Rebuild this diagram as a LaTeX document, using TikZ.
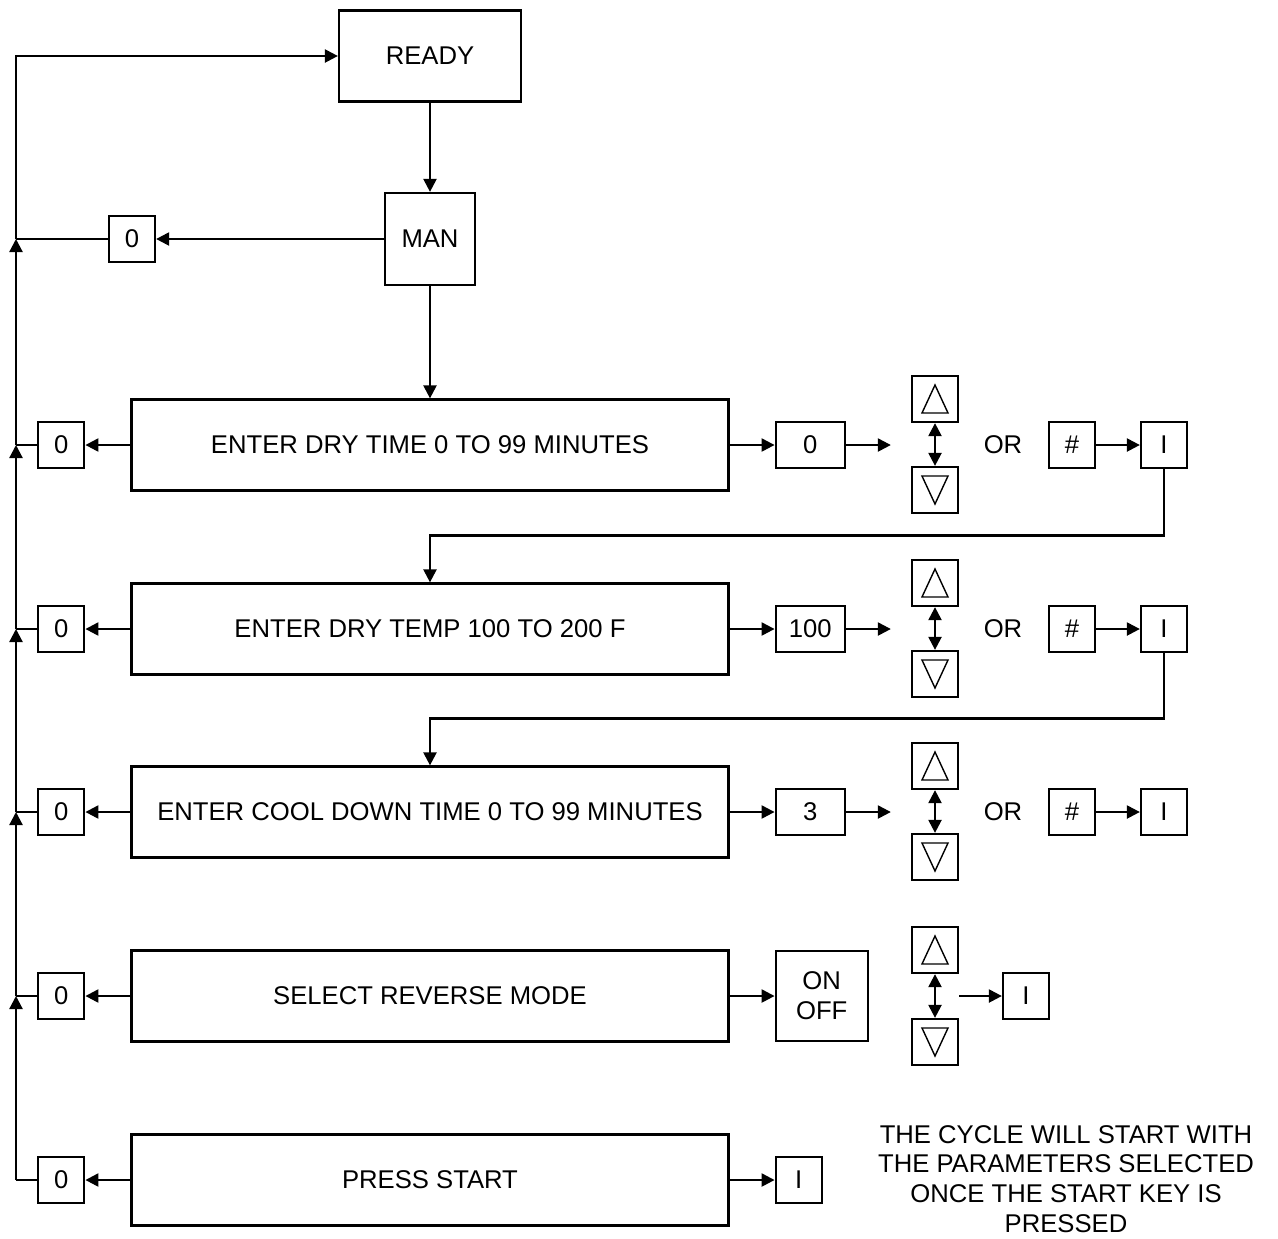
\documentclass[tikz,border=0pt]{standalone}
\usepackage{fontspec}
\setmainfont{Liberation Sans}
\usetikzlibrary{arrows.meta,positioning,calc}

\begin{document}
\begin{tikzpicture}[
  x=0.02cm, y=-0.02cm,
  font=\fontsize{14.6}{17}\selectfont,
  line width=1.3pt,
  flow/.style={-{Triangle[length=2.6mm,width=2.6mm]}},
  twoway/.style={{Triangle[length=2.6mm,width=2.6mm]}-{Triangle[length=2.6mm,width=2.6mm]}},
  stepbox/.style={draw, minimum width=11.94cm, minimum height=1.82cm, inner sep=0pt},
  key/.style={draw, minimum width=0.92cm, minimum height=0.92cm, inner sep=0pt},
  valbox/.style={key, minimum width=1.38cm},
  tri/.style={line width=0.8pt},
  upkey/.style={key, path picture={
    \draw[tri] ($(path picture bounding box.center)+(0,-14)$) -- ++(13,28) -- ++(-26,0) -- cycle;}},
  downkey/.style={key, path picture={
    \draw[tri] ($(path picture bounding box.center)+(0,14)$) -- ++(13,-28) -- ++(-26,0) -- cycle;}}
]
\useasboundingbox (0,0) rectangle (1278,1238);

% Top of the menu
\node[draw, minimum width=3.64cm, minimum height=1.82cm] (ready) at (430,56) {READY};
\node[draw, minimum width=1.8cm, minimum height=1.84cm] (man) at (430,239) {MAN};
\node[key] (zman) at (132,239) {0};

% Menu steps
\node[stepbox] (r1) at (430,445) {ENTER DRY TIME 0 TO 99 MINUTES};
\node[stepbox] (r2) at (430,629) {ENTER DRY TEMP 100 TO 200 F};
\node[stepbox] (r3) at (430,812) {ENTER COOL DOWN TIME 0 TO 99 MINUTES};
\node[stepbox] (r4) at (430,996) {SELECT REVERSE MODE};
\node[stepbox] (r5) at (430,1180) {PRESS START};

% Escape keys on the left
\node[key, left=0.9cm of r1] (z1) {0};
\node[key, left=0.9cm of r2] (z2) {0};
\node[key, left=0.9cm of r3] (z3) {0};
\node[key, left=0.9cm of r4] (z4) {0};
\node[key, left=0.9cm of r5] (z5) {0};

% Default values
\node[valbox, right=0.9cm of r1] (v1) {0};
\node[valbox, right=0.9cm of r2] (v2) {100};
\node[valbox, right=0.9cm of r3] (v3) {3};
\node[key, minimum width=1.84cm, minimum height=1.8cm, align=center, right=0.9cm of r4] (v4) {ON\\OFF};
\node[key, right=0.9cm of r5] (v5) {I};

\coordinate[right=0.9cm of v1] (e1);
\coordinate[right=0.9cm of v2] (e2);
\coordinate[right=0.9cm of v3] (e3);

% Up / down keys
\node[upkey] (u1) at (935,399) {};
\node[downkey] (d1) at (935,490) {};
\node[upkey] (u2) at (935,583) {};
\node[downkey] (d2) at (935,674) {};
\node[upkey] (u3) at (935,766) {};
\node[downkey] (d3) at (935,857) {};
\node[upkey] (u4) at (935,950) {};
\node[downkey] (d4) at (935,1042) {};

% OR # then I
\node (or1) at (1003,445) {OR};
\node (or2) at (1003,629) {OR};
\node (or3) at (1003,812) {OR};
\node[key] (h1) at (1072,445) {\#};
\node[key] (h2) at (1072,629) {\#};
\node[key] (h3) at (1072,812) {\#};
\node[key] (i1) at (1164,445) {I};
\node[key] (i2) at (1164,629) {I};
\node[key] (i3) at (1164,812) {I};
\node[key] (i4) at (1026,996) {I};
\coordinate (s4) at (u4.east |- v4.east);

\node[align=center] (note) at (1066,1179) {THE CYCLE WILL START WITH\\THE PARAMETERS SELECTED\\ONCE THE START KEY IS\\PRESSED};

% Main flow
\draw[flow] (ready) -- (man);
\draw[flow] (man) -- (zman);
\draw[flow] (man) -- (r1);

\draw[flow] (r1) -- (z1);
\draw[flow] (r2) -- (z2);
\draw[flow] (r3) -- (z3);
\draw[flow] (r4) -- (z4);
\draw[flow] (r5) -- (z5);

\draw[flow] (r1) -- (v1);
\draw[flow] (r2) -- (v2);
\draw[flow] (r3) -- (v3);
\draw[flow] (r4) -- (v4);
\draw[flow] (r5) -- (v5);

\draw[flow] (v1) -- (e1);
\draw[flow] (v2) -- (e2);
\draw[flow] (v3) -- (e3);

\draw[twoway] (u1) -- (d1);
\draw[twoway] (u2) -- (d2);
\draw[twoway] (u3) -- (d3);
\draw[twoway] (u4) -- (d4);

\draw[flow] (h1) -- (i1);
\draw[flow] (h2) -- (i2);
\draw[flow] (h3) -- (i3);
\draw[flow] (s4) -- (i4);

% Next step after I
\draw[flow] (i1.south) |- ($(r2.north)+(0,-47)$) -- (r2.north);
\draw[flow] (i2.south) |- ($(r3.north)+(0,-47)$) -- (r3.north);

% Return line back to READY
\coordinate (j0) at (16,239);
\coordinate (j1) at (16,445);
\coordinate (j2) at (16,629);
\coordinate (j3) at (16,812);
\coordinate (j4) at (16,996);
\coordinate (j5) at (16,1180);

\draw (zman) -- (j0);
\draw (z1) -- (j1);
\draw (z2) -- (j2);
\draw (z3) -- (j3);
\draw (z4) -- (j4);
\draw (z5) -- (j5);

\draw[flow] (j5) -- (j4);
\draw[flow] (j4) -- (j3);
\draw[flow] (j3) -- (j2);
\draw[flow] (j2) -- (j1);
\draw[flow] (j1) -- (j0);
\draw[flow] (j0) |- (ready);

\end{tikzpicture}
\end{document}
